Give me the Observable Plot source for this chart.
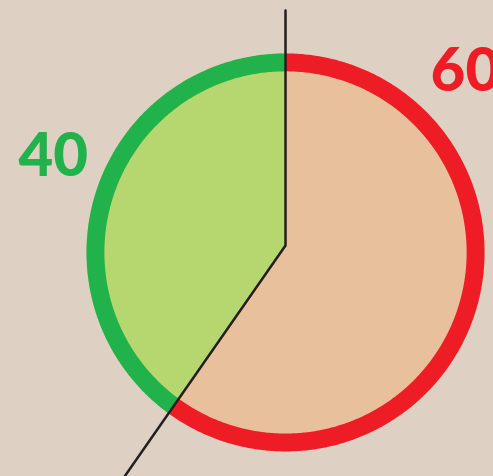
<!DOCTYPE html>
<html><head><meta charset="utf-8">
<script src="https://cdn.jsdelivr.net/npm/d3@7"></script>
<script src="https://cdn.jsdelivr.net/npm/@observablehq/plot@0.6"></script>
<style>
html,body{margin:0;padding:0;background:#dfd0c4;overflow:hidden;}
</style>
</head><body><div id="chart"></div>
<script>
// Data
const categories = ["Share A", "Share B"];
const values = [60, 40];
const labels = ["60", "40"];
const ringColors = ["#ee1c25", "#22b24c"];
const fillColors = ["#e8c19c", "#b6d770"];

// Layout (unit circle coordinates)
const R = 1, rInner = 0.91, vertexY = 0.035, topY = 1.216;
const labelPos = [[0.729, 0.91], [-1.342, 0.482]];

const arcs = d3.pie().sort(null)(values);
function arcPts(a0, a1, rad) {
  const n = Math.max(2, Math.ceil(Math.abs(a1 - a0) / 0.01));
  return d3.range(n + 1).map(j => {
    const a = a0 + (a1 - a0) * j / n;
    return {x: rad * Math.sin(a), y: rad * Math.cos(a)};
  });
}
const fillPts = arcs.flatMap((a, i) =>
  [{x: 0, y: vertexY}, ...arcPts(a.startAngle, a.endAngle, R)].map(p => ({...p, k: categories[i], c: fillColors[i]})));
const ringPts = arcs.flatMap((a, i) =>
  [...arcPts(a.startAngle, a.endAngle, R), ...arcPts(a.endAngle, a.startAngle, rInner)].map(p => ({...p, k: categories[i], c: ringColors[i]})));
const split = arcs[0].endAngle;
const P = {x: R * Math.sin(split), y: R * Math.cos(split)};
const t = 3;
const divider = [
  {x: 0, y: topY},
  {x: 0, y: vertexY},
  {x: t * P.x, y: vertexY + t * (P.y - vertexY)}
];
const labelData = labels.map((l, i) => ({text: l, x: labelPos[i][0], y: labelPos[i][1], c: ringColors[i]}));

const chart = Plot.plot({
  width: 493,
  height: 476,
  margin: 0,
  x: {domain: [-1.432, 1.045], axis: null},
  y: {domain: [-1.126, 1.266], axis: null},
  color: {type: "identity"},
  style: {background: "#dfd0c4", overflow: "hidden"},
  marks: [
    Plot.line(fillPts, {x: "x", y: "y", z: "k", fill: "c", stroke: "none"}),
    Plot.line(ringPts, {x: "x", y: "y", z: "k", fill: "c", stroke: "none"}),
    Plot.line(divider, {x: "x", y: "y", stroke: "#231f20", strokeWidth: 2.5, clip: true}),
    Plot.text(labelData, {x: "x", y: "y", text: "text", fill: "c", fontSize: 60, fontWeight: 900, fontFamily: "Lato", textAnchor: "start"})
  ]
});
document.getElementById("chart").appendChild(chart);
</script>
</body></html>
